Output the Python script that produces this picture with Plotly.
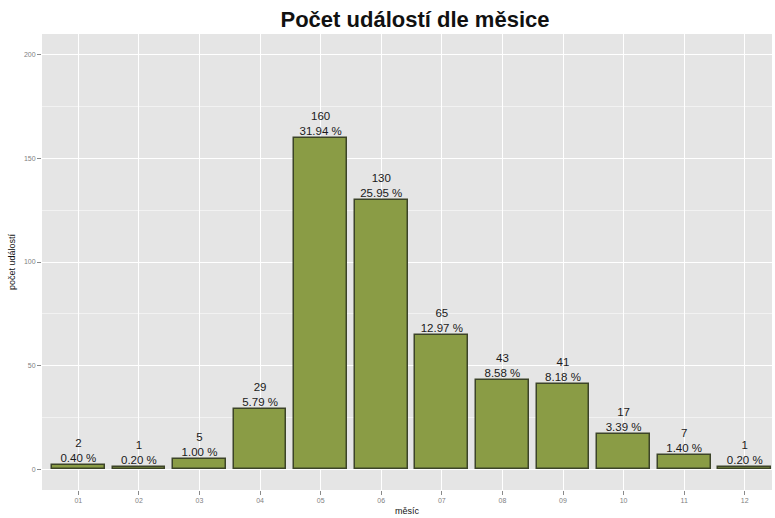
import plotly.graph_objects as go

# Monthly event counts
months = ["01", "02", "03", "04", "05", "06", "07", "08", "09", "10", "11", "12"]
counts = [2, 1, 5, 29, 160, 130, 65, 43, 41, 17, 7, 1]
y_ticks = [0, 50, 100, 150, 200]

total = sum(counts)
positions = list(range(1, len(months) + 1))
labels = [f"{c}<br>{100 * c / total:.2f} %" for c in counts]

fig = go.Figure()
fig.add_trace(go.Bar(
    x=positions, y=counts, width=0.87,
    marker=dict(color="#8A9C45", line=dict(color="#3C4428", width=1.5)),
    hoverinfo="skip",
))
fig.add_trace(go.Scatter(
    x=positions, y=counts, mode="text", text=labels,
    textposition="top center",
    textfont=dict(family="Liberation Sans, Arial, sans-serif", size=11.5, color="#1a1a1a"),
    hoverinfo="skip",
))

fig.update_layout(
    width=775, height=518,
    margin=dict(l=42, r=3, t=34, b=28),
    paper_bgcolor="white", plot_bgcolor="#E5E5E5",
    showlegend=False,
    font=dict(family="Liberation Sans, Arial, sans-serif"),
    title=dict(
        text="<b>Počet událostí dle měsice</b>",
        x=415 / 775, xref="container", xanchor="center",
        y=1 - 19 / 518, yref="container", yanchor="middle",
        font=dict(size=22, color="#111111"),
    ),
    bargap=0,
)
fig.update_xaxes(
    range=[0.4, 12.45], tickvals=positions, ticktext=months,
    showgrid=True, gridcolor="white", gridwidth=1.2,
    ticks="outside", ticklen=4, tickcolor="#8a8a8a",
    tickfont=dict(size=7, color="#7f7f7f"),
    title=dict(text="měsíc", font=dict(size=9, color="#111111"), standoff=4),
    zeroline=False, showline=False,
)
fig.update_yaxes(
    range=[-10, 210], tickvals=y_ticks,
    showgrid=True, gridcolor="white", gridwidth=1.2,
    minor=dict(tickvals=[25, 75, 125, 175], showgrid=True, gridcolor="#F2F2F2", gridwidth=0.6),
    ticks="outside", ticklen=4, tickcolor="#8a8a8a",
    tickfont=dict(size=7, color="#7f7f7f"),
    title=dict(text="počet událostí", font=dict(size=9, color="#111111"), standoff=6),
    zeroline=False, showline=False,
)

fig.write_html("out.html")
